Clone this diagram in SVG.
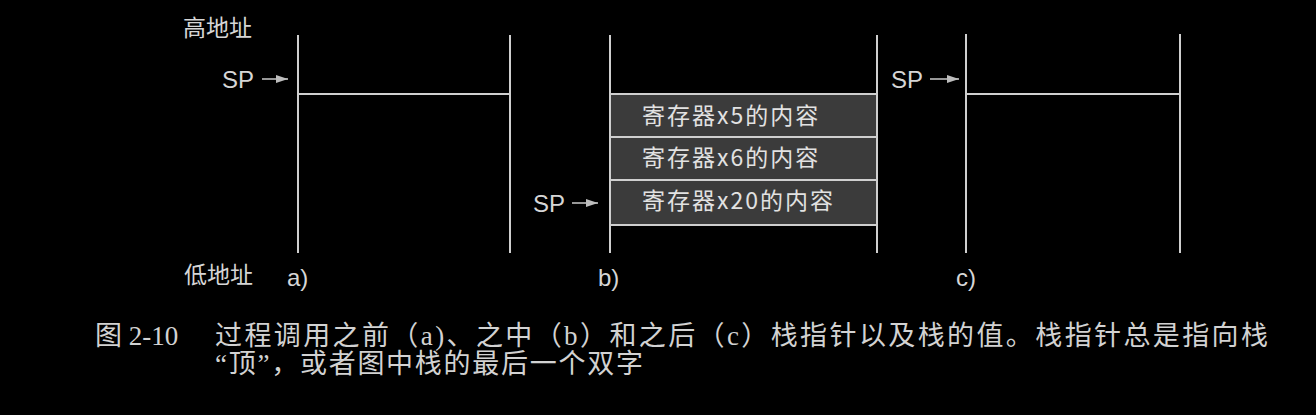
<svg xmlns="http://www.w3.org/2000/svg" width="1316" height="415" viewBox="0 0 1316 415">
<defs>
<marker id="ah" viewBox="0 0 12 8" refX="12" refY="4" markerWidth="12" markerHeight="8" markerUnits="userSpaceOnUse" orient="auto">
<path d="M0,0 L12,4 L0,8 Z" fill="#bdbdbd"/>
</marker>
</defs>
<style>
.ln{stroke:#cfcfcf;stroke-width:2;fill:none}
.cell{fill:#3b3b3b;stroke:#cfcfcf;stroke-width:2}
.lbl{font-family:"Liberation Sans","Noto Sans CJK SC",sans-serif;font-size:23px;fill:#d6d6d6}
.sp{font-family:"Liberation Sans",sans-serif;font-size:24px;fill:#d6d6d6}
.ct{font-family:"Noto Sans CJK SC","Liberation Sans",sans-serif;font-size:23px;fill:#e2e2e2;letter-spacing:2px}
.cap{font-family:"Liberation Serif","Noto Sans CJK SC",serif;font-size:27px;fill:#d2d2d2}
.arr{stroke:#bdbdbd;stroke-width:1.6;fill:none}
</style>
<rect width="1316" height="415" fill="#000"/>
<g id="axis-labels">
<text class="lbl" x="183" y="36">高地址</text>
<text class="lbl" x="184" y="283">低地址</text>
</g>
<g id="stack-a">
<line class="ln" x1="298" y1="35" x2="298" y2="253"/>
<line class="ln" x1="510" y1="35" x2="510" y2="253"/>
<line class="ln" x1="298" y1="94" x2="510" y2="94"/>
<text class="sp" x="287" y="286">a)</text>
</g>
<g id="stack-b">
<line class="ln" x1="610" y1="35" x2="610" y2="253"/>
<line class="ln" x1="877" y1="35" x2="877" y2="253"/>
<rect class="cell" x="610" y="94" width="267" height="43"/>
<rect class="cell" x="610" y="137" width="267" height="43"/>
<rect class="cell" x="610" y="180" width="267" height="45"/>
<text class="ct" x="642" y="124">寄存器x5的内容</text>
<text class="ct" x="642" y="166">寄存器x6的内容</text>
<text class="ct" x="642" y="209">寄存器x20的内容</text>
<text class="sp" x="598" y="286">b)</text>
</g>
<g id="stack-c">
<line class="ln" x1="966" y1="34" x2="966" y2="253"/>
<line class="ln" x1="1180" y1="34" x2="1180" y2="253"/>
<line class="ln" x1="966" y1="94" x2="1180" y2="94"/>
<text class="sp" x="956" y="286">c)</text>
</g>
<g id="sp-labels">
<text class="sp" x="222" y="88">SP</text>
<text class="sp" x="533" y="212">SP</text>
<text class="sp" x="891" y="88">SP</text>
</g>
<g id="connectors">
<line class="arr" x1="262" y1="79" x2="288" y2="79" marker-end="url(#ah)"/>
<line class="arr" x1="572" y1="203" x2="598" y2="203" marker-end="url(#ah)"/>
<line class="arr" x1="930" y1="79" x2="959" y2="79" marker-end="url(#ah)"/>
</g>
<g id="caption">
<text class="cap" x="95" y="345">图 2-10</text>
<text class="cap" x="215" y="345" textLength="1053" lengthAdjust="spacing">过程调用之前（a)、之中（b）和之后（c）栈指针以及栈的值。栈指针总是指向栈</text>
<text class="cap" x="215" y="373" textLength="428" lengthAdjust="spacing">“顶”，或者图中栈的最后一个双字</text>
</g>
</svg>
